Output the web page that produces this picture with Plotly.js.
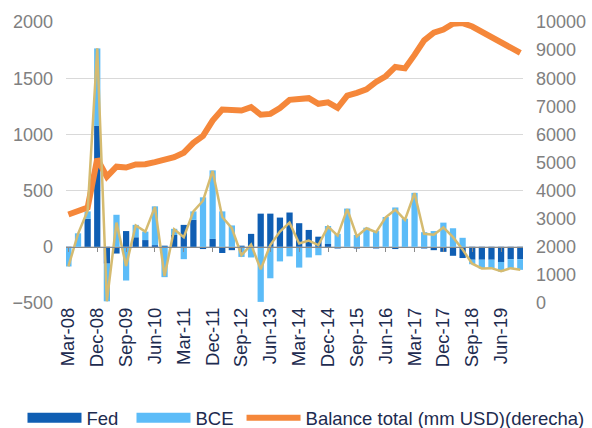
<!DOCTYPE html>
<html>
<head>
<meta charset="utf-8">
<script src="https://cdn.plot.ly/plotly-3.0.1.min.js"></script>
<style>
html,body{margin:0;padding:0;background:#fff;}
#chart{width:592px;height:428px;}
</style>
</head>
<body>
<div id="chart"></div>
<script>
const quarters = ['Mar-08','Jun-08','Sep-08','Dec-08','Mar-09','Jun-09','Sep-09','Dec-09',
  'Mar-10','Jun-10','Sep-10','Dec-10','Mar-11','Jun-11','Sep-11','Dec-11',
  'Mar-12','Jun-12','Sep-12','Dec-12','Mar-13','Jun-13','Sep-13','Dec-13',
  'Mar-14','Jun-14','Sep-14','Dec-14','Mar-15','Jun-15','Sep-15','Dec-15',
  'Mar-16','Jun-16','Sep-16','Dec-16','Mar-17','Jun-17','Sep-17','Dec-17',
  'Mar-18','Jun-18','Sep-18','Dec-18','Mar-19','Jun-19','Sep-19','Dec-19'];
const tickLabels = ['Mar-08','Dec-08','Sep-09','Jun-10','Mar-11','Dec-11','Sep-12','Jun-13',
  'Mar-14','Dec-14','Sep-15','Jun-16','Mar-17','Dec-17','Sep-18','Jun-19'];
const fed = [-5,0,250,1075,-150,-60,140,85,60,15,10,105,
  195,240,-20,70,-55,-30,10,115,295,295,260,305,
  210,150,90,25,-15,0,-15,0,-15,0,-20,-10,
  0,-15,-30,-45,-80,-100,-115,-115,-115,-135,-110,-110];
const bce = [-170,120,65,690,-335,285,-300,110,75,345,-270,55,
  -110,75,440,610,315,190,-90,-95,-490,-280,-130,-85,
  -185,-95,-75,160,115,340,105,170,140,265,350,250,
  480,130,140,215,165,80,-40,-80,-75,-85,-80,-95];
const neto = [-175,115,320,1765,-485,215,-170,190,135,355,-260,155,
  85,315,410,675,265,165,-75,20,-200,15,135,215,
  30,55,15,180,100,335,92,165,130,262,330,240,
  478,115,108,172,86,-25,-150,-192,-190,-218,-190,-205];
const balance = [3150,3280,3400,5130,4495,4850,4820,4930,4940,5015,5080,5190,
  5350,5700,5950,6490,6885,6850,6850,6970,6700,6730,6940,7230,
  7240,7290,7090,7140,6945,7380,7480,7600,7867,8070,8400,8350,
  8830,9346,9620,9730,9937,9960,9840,9660,9450,9275,9110,8900];

const FONT = 'Liberation Sans, Arial, sans-serif';
const cFed = '#0f5eb3', cBce = '#5cbcf8', cBal = '#f5873a', cNet = '#d5bb70';
const legFont = {family:FONT, size:18.5, color:'#1d2b4f'};

const traces = [
  {type:'bar', x:quarters, y:fed, name:'Fed', marker:{color:cFed}, showlegend:false, hoverinfo:'x+y'},
  {type:'bar', x:quarters, y:bce, name:'BCE', marker:{color:cBce}, showlegend:false, hoverinfo:'x+y'},
  {type:'scatter', mode:'lines', x:quarters, y:neto, name:'Neto', xaxis:'x2', yaxis:'y',
   line:{color:cNet, width:2.5}, showlegend:false},
  {type:'scatter', mode:'lines', x:quarters, y:balance, name:'Balance total (mm USD)(derecha)', yaxis:'y2',
   line:{color:cBal, width:6}, showlegend:true, legend:'legend2'},
  {type:'scatter', mode:'lines', x:[null], y:[null], name:'Fed', line:{color:cFed, width:10}, showlegend:true, hoverinfo:'skip'},
  {type:'scatter', mode:'lines', x:[null], y:[null], name:'BCE', line:{color:cBce, width:10}, showlegend:true, hoverinfo:'skip'}
];

const layout = {
  width:592, height:428,
  margin:{l:66, r:69, t:22, b:125, autoexpand:false},
  paper_bgcolor:'#fff', plot_bgcolor:'#fff',
  font:{family:FONT, size:18, color:'#808080'},
  barmode:'relative', bargap:0.35,
  showlegend:true,
  legend:{orientation:'h', xref:'container', yref:'container', x:0.038, xanchor:'left', y:0.023, yanchor:'middle',
    font:legFont, itemwidth:54, entrywidth:40, entrywidthmode:'pixels',
    traceorder:'normal', bgcolor:'rgba(0,0,0,0)'},
  legend2:{orientation:'h', xref:'container', yref:'container', x:0.408, xanchor:'left', y:0.023, yanchor:'middle',
    font:legFont, itemwidth:54, bgcolor:'rgba(0,0,0,0)'},
  xaxis:{type:'category', categoryarray:quarters, range:[-0.25,47.28],
    tickmode:'array', tickvals:tickLabels, ticktext:tickLabels, tickangle:-90,
    ticks:'', showgrid:false, zeroline:false, showline:false, automargin:false,
    tickfont:{family:FONT, size:18.5, color:'#1d2b4f'}},
  xaxis2:{type:'category', matches:'x', overlaying:'x', anchor:'free', position:0.2,
    showline:true, linecolor:'#8a8a8a', linewidth:1.5,
    tickmode:'array', tickvals:tickLabels, ticks:'outside', ticklen:4, tickcolor:'#8a8a8a', tickwidth:1,
    showticklabels:false, showgrid:false, zeroline:false},
  yaxis:{range:[-500,2000], dtick:500, tick0:0, showgrid:true, gridcolor:'#d9d9d9', gridwidth:1,
    zeroline:false, showline:false, ticks:'', ticklabelstandoff:12, automargin:false,
    tickfont:{family:FONT, size:18, color:'#808080'}},
  yaxis2:{overlaying:'y', side:'right', range:[0,10000], dtick:1000, tick0:0, tickformat:'d', showgrid:false,
    zeroline:false, showline:false, ticks:'', ticklabelstandoff:12, automargin:false,
    tickfont:{family:FONT, size:18, color:'#808080'}}
};

Plotly.newPlot('chart', traces, layout, {displayModeBar:false, staticPlot:true});
</script>
</body>
</html>
